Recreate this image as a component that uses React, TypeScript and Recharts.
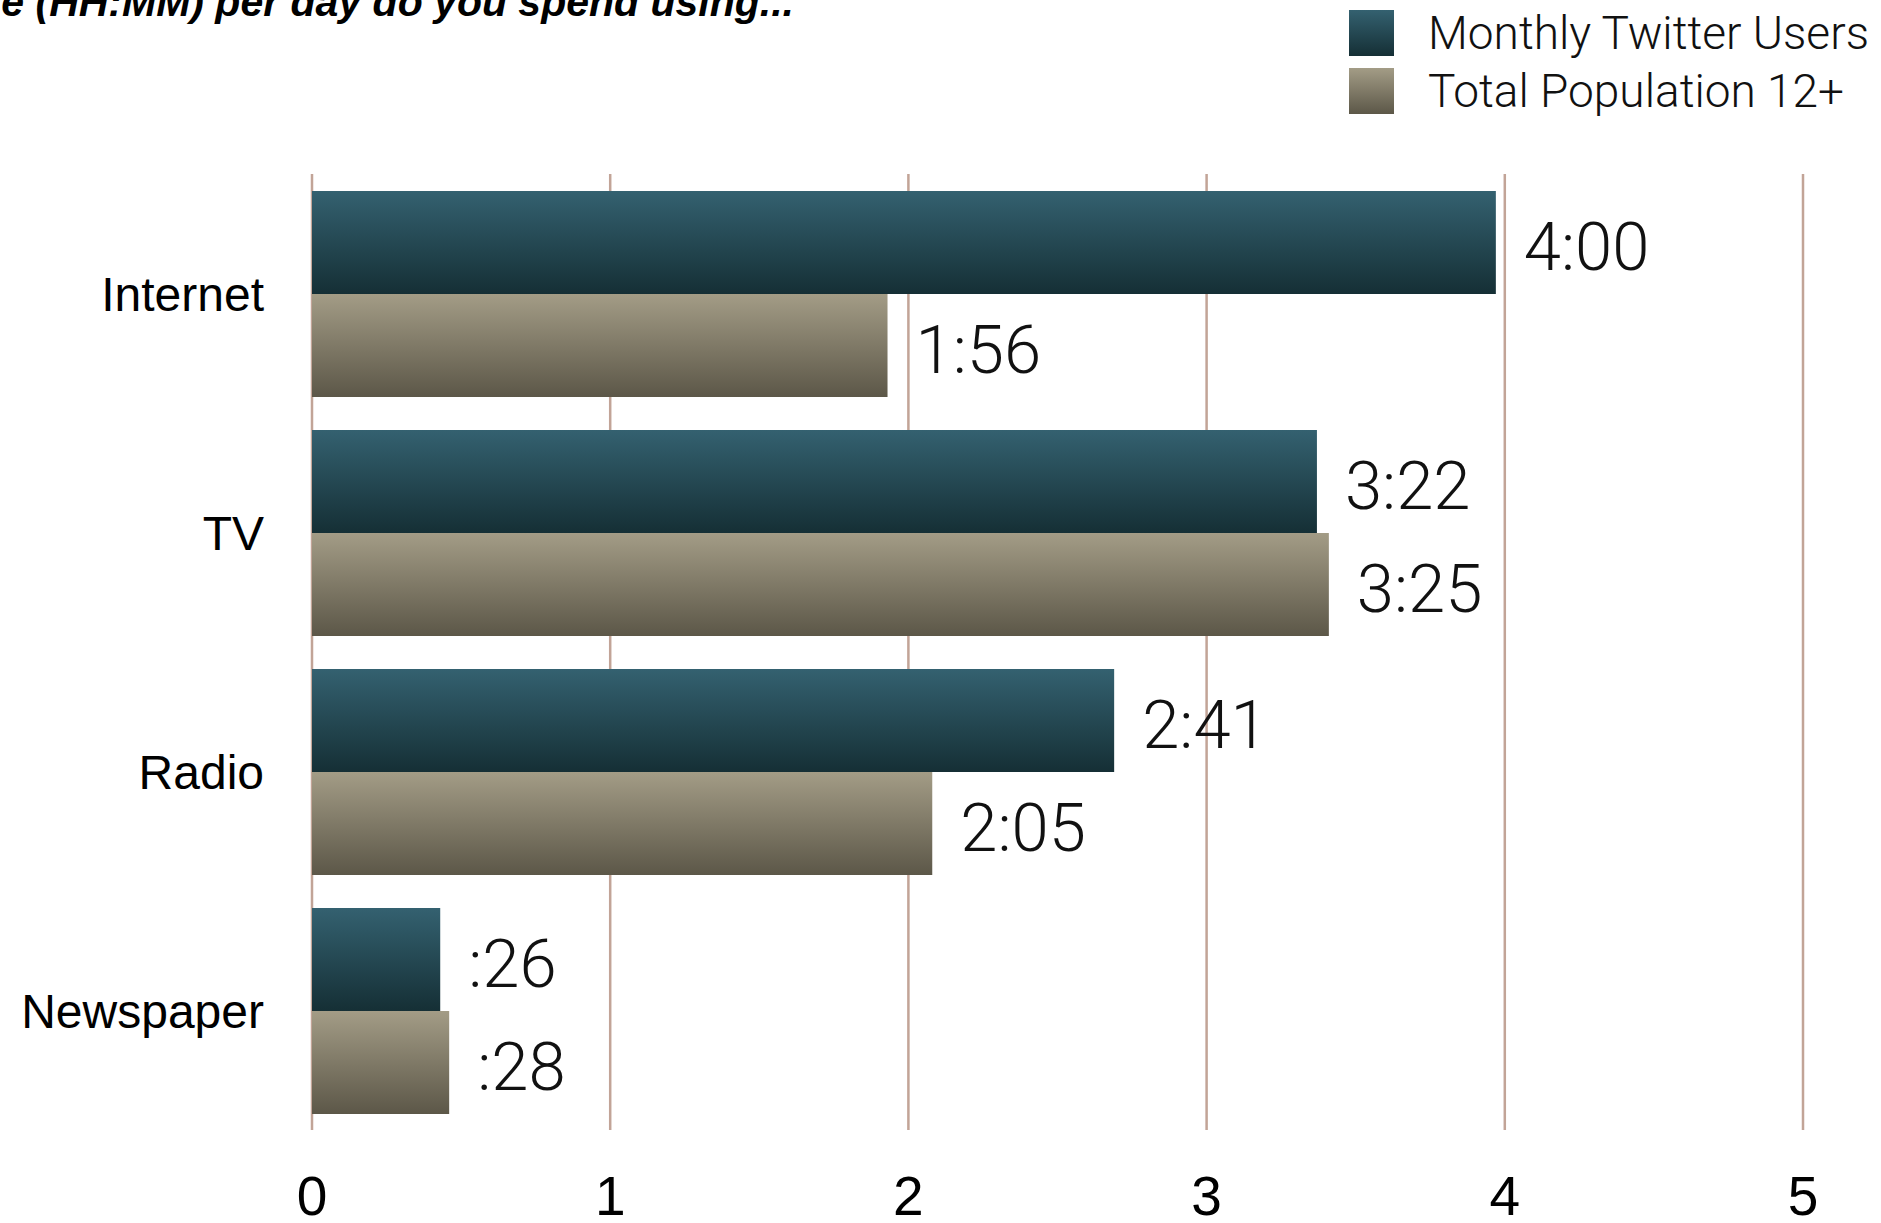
import { BarChart, Bar, XAxis, YAxis, CartesianGrid, LabelList } from 'recharts';

const categories = ['Internet', 'TV', 'Radio', 'Newspaper'];
// hours per day
const twitterHours = [3.97, 3.37, 2.69, 0.43];
const populationHours = [1.93, 3.41, 2.08, 0.46];
// printed value labels (HH:MM)
const twitterLabels = ['4:00', '3:22', '2:41', ':26'];
const populationLabels = ['1:56', '3:25', '2:05', ':28'];
const xTicks = [0, 1, 2, 3, 4, 5];
const seriesNames = ['Monthly Twitter Users', 'Total Population 12+'];
const title = 'How much time (HH:MM) per day do you spend using...';

const TW_TOP = '#346170';
const TW_BOT = '#152f35';
const POP_TOP = '#a39c86';
const POP_BOT = '#5c5748';
const GRID = '#c2a497';

const data = categories.map((name, i) => ({
  name,
  twitter: twitterHours[i],
  population: populationHours[i],
  twLabel: twitterLabels[i],
  popLabel: populationLabels[i],
}));

const labelStyle = { fontFamily: 'Roboto, "Liberation Sans", sans-serif', fontWeight: 300, fontSize: 67, fill: '#111' };

const ValueLabel = (props: any) => {
  const { x, y, width, height, value } = props;
  return (
    <text x={x + width + 28} y={y + height / 2 + 4} dominantBaseline="central" style={labelStyle}>{value}</text>
  );
};

function Swatch({ top, bottom, id }: { top: string; bottom: string; id: string }) {
  return (
    <svg width={45} height={46} style={{ display: 'block' }}>
      <defs>
        <linearGradient id={id} x1="0" y1="0" x2="0" y2="1">
          <stop offset="0%" stopColor={top} />
          <stop offset="100%" stopColor={bottom} />
        </linearGradient>
      </defs>
      <rect width={45} height={46} fill={`url(#${id})`} />
    </svg>
  );
}

export default function App() {
  const legendRows = [
    { name: seriesNames[0], top: TW_TOP, bottom: TW_BOT, y: 10 },
    { name: seriesNames[1], top: POP_TOP, bottom: POP_BOT, y: 68 },
  ];
  return (
    <div style={{ position: 'fixed', left: 0, top: 0, width: 1881, height: 1223, background: '#fff', overflow: 'hidden' }}>
      <BarChart layout="vertical" width={1881} height={1223} data={data}
        margin={{ top: 174, right: 78, bottom: 0, left: 0 }} barCategoryGap={17} barGap={0}>
        <defs>
          <linearGradient id="twGrad" x1="0" y1="0" x2="0" y2="1">
            <stop offset="0%" stopColor={TW_TOP} />
            <stop offset="100%" stopColor={TW_BOT} />
          </linearGradient>
          <linearGradient id="popGrad" x1="0" y1="0" x2="0" y2="1">
            <stop offset="0%" stopColor={POP_TOP} />
            <stop offset="100%" stopColor={POP_BOT} />
          </linearGradient>
        </defs>
        <CartesianGrid horizontal={false} stroke={GRID} strokeWidth={2.5} />
        <XAxis type="number" domain={[0, 5]} ticks={xTicks} height={93} axisLine={false} tickLine={false}
          tickSize={0} tickMargin={46} interval={0}
          tick={{ fontFamily: '"Liberation Sans", Arial, sans-serif', fontSize: 55, fill: '#000' }} />
        <YAxis type="category" dataKey="name" width={312} axisLine={false} tickLine={false}
          tickSize={0} tickMargin={48}
          tick={{ fontFamily: '"Liberation Sans", Arial, sans-serif', fontSize: 48, fill: '#000' }} />
        <Bar dataKey="twitter" fill="url(#twGrad)" isAnimationActive={false}>
          <LabelList dataKey="twLabel" content={ValueLabel} />
        </Bar>
        <Bar dataKey="population" fill="url(#popGrad)" isAnimationActive={false}>
          <LabelList dataKey="popLabel" content={ValueLabel} />
        </Bar>
      </BarChart>

      <svg width={1881} height={60} style={{ position: 'absolute', left: 0, top: 0, pointerEvents: 'none' }}>
        <text x={794} y={16} textAnchor="end" fontFamily='"Liberation Sans Narrow", "Liberation Sans", sans-serif'
          fontWeight="bold" fontStyle="italic" fontSize={41} fill="#000">{title}</text>
      </svg>

      {legendRows.map((r, i) => (
        <div key={r.name} style={{ position: 'absolute', left: 1349, top: r.y, height: 46, display: 'flex', alignItems: 'center' }}>
          <Swatch top={r.top} bottom={r.bottom} id={`lg${i}`} />
          <span style={{ marginLeft: 34, fontFamily: 'Roboto, "Liberation Sans", sans-serif', fontWeight: 300,
            fontSize: 46, color: '#111', whiteSpace: 'nowrap', lineHeight: '46px' }}>{r.name}</span>
        </div>
      ))}
    </div>
  );
}
